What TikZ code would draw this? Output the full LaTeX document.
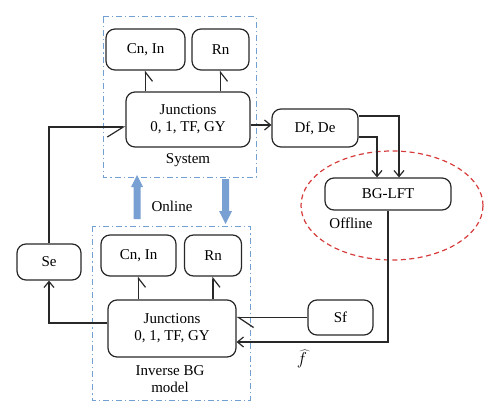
\documentclass[tikz,border=0pt]{standalone}
\usepackage{fontspec}
\setmainfont{Liberation Serif}
\usetikzlibrary{arrows.meta}
\definecolor{boxline}{RGB}{40,40,40}
\definecolor{zoneblue}{RGB}{115,160,210}
\definecolor{zonered}{RGB}{215,60,60}
\definecolor{flowdark}{RGB}{50,100,170}
\definecolor{flowlight}{RGB}{120,160,210}
\begin{document}
\begin{tikzpicture}[x=1pt,y=-1pt,
    font=\fontsize{15}{17}\selectfont,
    elem/.style={draw=boxline,line width=1.2pt,rounded corners=9pt,
      align=center,inner sep=0pt},
    zone/.style={draw=zoneblue,line width=1pt,
      dash pattern=on 6pt off 3pt on 1.2pt off 3pt},
    bondv/.style={draw=boxline,line width=1.2pt,
      -{Straight Barb[harpoon,swap,length=9pt,width=14pt]}},
    bondh/.style={draw=boxline,line width=1.2pt,
      -{Straight Barb[harpoon,swap,length=16pt,width=20pt]}},
    bondw/.style={draw=boxline,line width=1.2pt,
      -{Straight Barb[harpoon,length=15pt,width=20pt]}},
    flow/.style={draw=boxline,line width=1.2pt,
      -{Straight Barb[length=6pt,width=10pt]}},
    online/.style={left color=flowlight,middle color=flowdark,right color=flowlight}]
      \useasboundingbox (0,0) rectangle (500,417);
      % system
      \draw[zone] (103,17) rectangle (256,177);
      \node[elem,minimum width=124pt,minimum height=55pt] (sysJ) at (188,119.5)
      {Junctions\\0, 1, TF, GY};
      \node[elem,minimum width=79pt,minimum height=41pt] (sysC) at (145.5,49.5) {Cn, In};
      \node[elem,minimum width=57pt,minimum height=41pt] (sysR) at (220.5,49.5) {Rn};
      \node (sysname) at (188,160) {System};
      \draw[bondv] (sysJ.north -| sysC) -- (sysC.south);
      \draw[bondv] (sysJ.north -| sysR) -- (sysR.south);
      % offline part
      \node[elem,minimum width=86pt,minimum height=38pt] (dfde) at (315,128) {Df, De};
      \node[elem,minimum width=126pt,minimum height=32pt] (lft) at (388,194) {BG-LFT};
      \node (offname) at (351,223) {Offline};
      \draw[zonered,line width=1.2pt,dash pattern=on 5pt off 3.5pt]
      (392,205.5) ellipse [x radius=91pt,y radius=54.5pt];
      \draw[flow] ([yshift=-5.5pt]sysJ.east) -- ([yshift=-5.5pt]sysJ.east -| dfde.west);
      \draw[flow] ([yshift=12pt]dfde.east) -| ([xshift=11pt]lft.north);
      \draw[flow] ([yshift=-9pt]dfde.east) -| ([xshift=-11pt]lft.north);
      % online arrows
      \shade[online]
      (133.5,219) -- (133.5,187) -- (131,187) -- (137,175) -- (143,187)
      -- (140.5,187) -- (140.5,219) -- cycle;
      \shade[online]
      (222,179) -- (222,211) -- (219,211) -- (225.5,224) -- (232,211)
      -- (229,211) -- (229,179) -- cycle;
      \node (onname) at (172,206) {Online};
      % inverse model
      \draw[zone] (92,226) rectangle (250,400);
      \node[elem,minimum width=128pt,minimum height=57pt] (invJ) at (172,328.5)
      {Junctions\\0, 1, TF, GY};
      \node[elem,minimum width=75pt,minimum height=41pt] (invC) at (138.5,255.5) {Cn, In};
      \node[elem,minimum width=57pt,minimum height=41pt] (invR) at (213,255.5) {Rn};
      \node[align=center] (invname) at (170,379) {Inverse BG\\model};
      \draw[bondv] (invJ.north -| invC) -- (invC.south);
      \draw[bondv] (invJ.north -| invR) -- (invR.south);
      \node[elem,minimum width=64pt,minimum height=36pt] (se) at (49,262) {Se};
      \node[elem,minimum width=65pt,minimum height=35pt] (sf) at (340.5,317.5) {Sf};
      \node[font=\fontsize{17}{19}\selectfont] (fhat) at (302,359) {$\widehat{f}$};
      \draw[flow] ([yshift=5.5pt]invJ.west) -| (se.south);
      \draw[bondh] (se.north) |- ([yshift=-7.5pt]sysJ.west);
      \draw[bondw] (sf.west) -- (sf.west -| invJ.east);
      \draw[flow] (lft.south) |- ([yshift=-13.5pt]invJ.east);
    \end{tikzpicture}
\end{document}
